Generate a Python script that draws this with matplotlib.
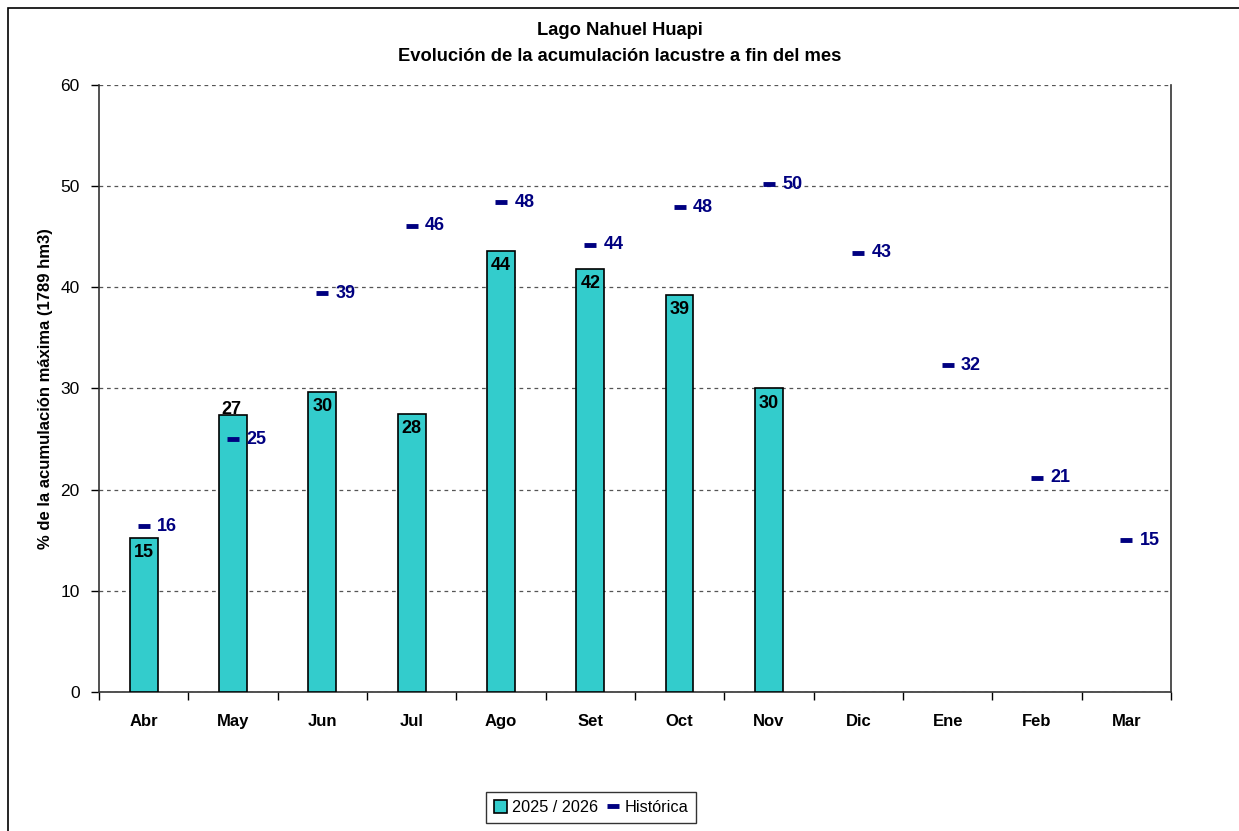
import matplotlib.pyplot as plt
import matplotlib.patches as mpatches
import numpy as np

plt.rcParams['font.family'] = ['Liberation Sans', 'DejaVu Sans']

# Meses del año hidrológico
meses = ['Abr', 'May', 'Jun', 'Jul', 'Ago', 'Set', 'Oct', 'Nov', 'Dic', 'Ene', 'Feb', 'Mar']

# Acumulación 2025/2026 (% de la máxima), sólo meses transcurridos
actual = [15.2, 27.4, 29.7, 27.5, 43.6, 41.8, 39.2, 30.0]

# Promedio histórico (% de la máxima)
historica = [16.4, 25.0, 39.4, 46.1, 48.4, 44.2, 47.9, 50.2, 43.4, 32.3, 21.2, 15.0]

color_barra = '#33CCCC'
color_hist = '#000080'

fig = plt.figure(figsize=(12.39, 8.31), dpi=100)
ax = fig.add_axes([0.0799, 0.1673, 0.8652, 0.7304])

x = np.arange(len(meses))
xa = x[:len(actual)]

barras = ax.bar(xa, actual, width=0.31, color=color_barra, edgecolor='black',
                linewidth=1.2, zorder=3, label='2025 / 2026')
linea, = ax.plot(x, historica, linestyle='none', marker='_', markersize=9,
                 markeredgewidth=3.5, color=color_hist, zorder=4, label='Histórica')

# Etiquetas de las barras (dentro del extremo superior)
for i, v in enumerate(actual):
    if i == 1:
        ax.text(xa[i] - 0.02, v - 0.3, f'{v:.0f}', ha='center', va='bottom',
                fontsize=13, fontweight='bold', color='black', zorder=5)
    else:
        ax.text(xa[i], v - 0.6, f'{v:.0f}', ha='center', va='top',
                fontsize=13, fontweight='bold', color='black', zorder=5)

# Etiquetas de la serie histórica
for i, v in enumerate(historica):
    ax.text(x[i] + 0.15, v, f'{v:.0f}', ha='left', va='center',
            fontsize=13, fontweight='bold', color=color_hist, zorder=5)

ax.set_xlim(-0.5, len(meses) - 0.5)
ax.set_ylim(0, 60)
ax.set_yticks(np.arange(0, 61, 10))
ax.set_xticks(x)
ax.set_xticklabels(meses, fontweight='bold', fontsize=12)
ax.set_xticks(np.arange(-0.5, len(meses), 1), minor=True)
ax.tick_params(axis='x', which='major', length=0, pad=16)
ax.tick_params(axis='x', which='minor', length=6, direction='out', width=1)
ax.tick_params(axis='y', length=6, direction='out', width=1, labelsize=12.5, pad=8)

ax.grid(axis='y', linestyle=(0, (3, 3)), color='#555555', linewidth=0.9, zorder=0)
ax.spines['top'].set_visible(False)
for s in ['left', 'right', 'bottom']:
    ax.spines[s].set_linewidth(1.2)
    ax.spines[s].set_color('#333333')

ax.set_ylabel('% de la acumulación máxima (1789 hm3)', fontsize=12,
              fontweight='bold', labelpad=5)

fig.text(0.5, 0.963, 'Lago Nahuel Huapi', ha='center', va='center',
         fontsize=13.2, fontweight='bold')
fig.text(0.5, 0.932, 'Evolución de la acumulación lacustre a fin del mes',
         ha='center', va='center', fontsize=13.2, fontweight='bold')

# Marco del área del gráfico
fig.patches.append(mpatches.Rectangle((8 / 1239, -0.01), 1.02, 1 - 8 / 831 + 0.01,
                                      transform=fig.transFigure, fill=False,
                                      edgecolor='black', linewidth=1.2))

leg = fig.legend(handles=[barras, linea], labels=['2025 / 2026', 'Histórica'],
                 loc='center', bbox_to_anchor=(0.477, 0.028), ncol=2,
                 frameon=True, fancybox=False, fontsize=11.7, handlelength=0.8,
                 handleheight=0.8, handletextpad=0.3, columnspacing=0.5,
                 borderpad=0.5)
leg.get_frame().set_edgecolor('black')
leg.get_frame().set_linewidth(1.0)

fig.savefig('out.png', dpi=100)
